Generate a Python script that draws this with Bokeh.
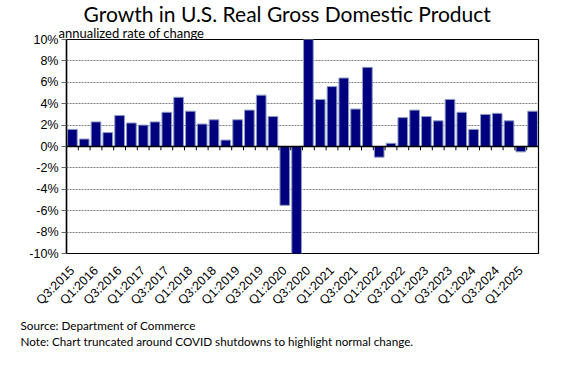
import math
from bokeh.plotting import figure
from bokeh.models import ColumnDataSource, FixedTicker, Range1d, Span, Title
from bokeh.embed import file_html
from bokeh.resources import INLINE

quarters = [
    "Q3:2015", "Q4:2015", "Q1:2016", "Q2:2016", "Q3:2016", "Q4:2016",
    "Q1:2017", "Q2:2017", "Q3:2017", "Q4:2017", "Q1:2018", "Q2:2018",
    "Q3:2018", "Q4:2018", "Q1:2019", "Q2:2019", "Q3:2019", "Q4:2019",
    "Q1:2020", "Q2:2020", "Q3:2020", "Q4:2020", "Q1:2021", "Q2:2021",
    "Q3:2021", "Q4:2021", "Q1:2022", "Q2:2022", "Q3:2022", "Q4:2022",
    "Q1:2023", "Q2:2023", "Q3:2023", "Q4:2023", "Q1:2024", "Q2:2024",
    "Q3:2024", "Q4:2024", "Q1:2025", "Q2:2025",
]
growth = [
    1.6, 0.7, 2.3, 1.3, 2.9, 2.2,
    2.0, 2.3, 3.2, 4.6, 3.3, 2.1,
    2.5, 0.6, 2.5, 3.4, 4.8, 2.8,
    -5.5, -28.0, 35.2, 4.4, 5.6, 6.4,
    3.5, 7.4, -1.0, 0.3, 2.7, 3.4,
    2.8, 2.4, 4.4, 3.2, 1.6, 3.0,
    3.1, 2.4, -0.5, 3.3,
]
y_ticks = [-10, -8, -6, -4, -2, 0, 2, 4, 6, 8, 10]

title_text = "Growth in U.S. Real Gross Domestic Product"
subtitle_text = "annualized rate of change"
source_text = "Source: Department of Commerce"
note_text = "Note: Chart truncated around COVID shutdowns to highlight normal change."

idx = list(range(len(quarters)))
src = ColumnDataSource(dict(x=idx, top=growth, q=quarters))
bounds = [i + 0.5 for i in idx[:-1]]
tick_src = ColumnDataSource(dict(x=bounds, y0=[0] * len(bounds), y1=[-0.35] * len(bounds)))

FW, FH = 472, 214
p = figure(
    output_backend="svg", toolbar_location=None,
    frame_width=FW, frame_height=FH,
    min_border_left=66, min_border_right=40, min_border_top=0, min_border_bottom=108,
    x_range=Range1d(-0.5, len(quarters) - 0.5), y_range=Range1d(-10, 10),
    background_fill_color="white", border_fill_color="white",
)
p.outline_line_color = "black"
p.outline_line_width = 1.2

p.vbar(x="x", top="top", bottom=0, width=0.82, source=src,
       fill_color="#00007f", line_color="#8e9ec4", line_width=1)

# zero line with category tick marks
p.add_layout(Span(location=0, dimension="width", line_color="black", line_width=1.5))
p.segment(x0="x", x1="x", y0="y0", y1="y1", source=tick_src,
          line_color="black", line_width=1)

# y axis
p.yaxis.ticker = FixedTicker(ticks=y_ticks)
p.yaxis.major_label_overrides = {t: f"{t}%" for t in y_ticks}
p.yaxis.major_label_text_font = "Liberation Sans"
p.yaxis.major_label_text_font_size = "12.5px"
p.yaxis.major_label_text_color = "black"
p.yaxis.axis_line_color = "black"
p.yaxis.axis_line_width = 1.5
p.yaxis.major_tick_out = 5
p.yaxis.major_tick_in = 0
p.yaxis.major_tick_line_color = "#666666"
p.yaxis.minor_tick_line_color = None
p.yaxis.major_label_standoff = 3

# x axis: label every other quarter
even = [i for i in idx if i % 2 == 0]
p.xaxis.ticker = FixedTicker(ticks=even)
p.xaxis.major_label_overrides = {i: quarters[i] for i in even}
p.xaxis.major_label_orientation = math.pi / 4
p.xaxis.major_label_text_font = "Liberation Sans"
p.xaxis.major_label_text_font_size = "12.5px"
p.xaxis.major_label_text_color = "black"
p.xaxis.major_tick_line_color = None
p.xaxis.minor_tick_line_color = None
p.xaxis.axis_line_color = None
p.xaxis.major_label_standoff = 9

p.xgrid.grid_line_color = None
p.ygrid.ticker = FixedTicker(ticks=y_ticks)
p.ygrid.grid_line_color = "#7f7f7f"
p.ygrid.grid_line_dash = "2 1"
p.ygrid.grid_line_width = 1.2

font = "Lato"
p.add_layout(Title(text=subtitle_text, align="left", offset=-8, standoff=-3,
                   text_font=font, text_font_size="13px", text_font_style="normal",
                   text_color="black"), "above")
p.add_layout(Title(text=title_text, align="left", offset=17, standoff=-3,
                   text_font=font, text_font_size="21px", text_font_style="normal",
                   text_color="black"), "above")
p.add_layout(Title(text=source_text, align="left", offset=-46, standoff=0,
                   text_font=font, text_font_size="11.7px", text_font_style="normal",
                   text_line_height=0.55, text_color="black"), "below")
p.add_layout(Title(text=note_text, align="left", offset=-46, standoff=0,
                   text_font=font, text_font_size="11.7px", text_font_style="normal",
                   text_line_height=1.65, text_color="black"), "below")

open("out.html", "w").write(file_html(p, INLINE))
